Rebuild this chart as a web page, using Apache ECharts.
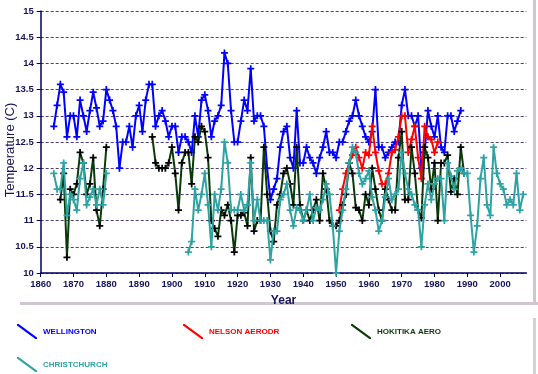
<!DOCTYPE html>
<html><head><meta charset="utf-8">
<script src="https://cdn.jsdelivr.net/npm/echarts@6/dist/echarts.min.js"></script>
<style>html,body{margin:0;padding:0;background:#fff}#c{width:538px;height:374px}</style>
</head><body><div id="c"></div>
<script>
// ---- data (annual mean temperature, deg C) ----
const xTicks = [1860,1870,1880,1890,1900,1910,1920,1930,1940,1950,1960,1970,1980,1990,2000];
const yTicks = [10,10.5,11,11.5,12,12.5,13,13.5,14,14.5,15];

const wellingtonStart = 1864;
const wellington = [
 12.8,13.2,13.6,13.45,12.6,13.0,13.0,12.6,13.3,13.0,
 12.7,13.1,13.45,13.15,12.8,12.9,13.5,13.3,13.1,12.8,
 12.0,12.5,12.5,12.8,12.4,13.0,13.2,12.7,13.3,13.6,
 13.6,12.8,13.0,13.1,12.9,12.6,12.8,12.8,12.3,12.6,
 12.6,12.5,12.3,13.0,12.6,13.3,13.4,13.1,12.6,12.9,
 13.0,13.2,14.2,14.0,13.1,12.5,12.5,12.9,13.3,13.1,
 13.9,12.9,13.0,13.0,12.8,12.0,11.4,11.6,11.8,12.4,
 12.7,12.8,12.2,12.0,13.1,12.1,12.1,12.4,12.2,12.1,
 11.9,12.2,12.4,12.7,12.3,12.3,12.2,12.5,12.5,12.7,
 12.9,13.0,13.3,13.0,12.8,12.6,12.5,12.7,13.5,12.4,
 12.4,12.2,12.3,12.4,12.5,12.5,13.2,13.5,13.0,13.0,
 12.8,13.0,12.0,12.3,13.1,12.8,12.6,13.0,12.4,12.3,
 13.0,13.0,12.7,12.9,13.1];

const nelsonStart = 1951;
const nelson = [
 11.2,11.6,11.9,12.1,12.25,12.4,12.2,12.0,12.3,12.25,
 12.8,12.3,11.95,11.7,11.7,11.9,12.3,12.35,12.6,13.0,
 13.0,12.3,12.55,12.8,12.2,11.8,12.8,12.6,12.55,12.3,
 12.5];

const hokitikaStart = 1866;
const hokitika = [
 11.4,11.9,10.3,11.6,11.5,11.7,12.3,12.1,11.5,11.7,
 12.2,11.2,10.9,11.6,12.4,
 null,null,null,null,null,null,null,null,null,null,null,null,null,
 12.6,12.1,12.0,12.0,12.0,12.1,12.4,11.9,11.2,12.1,
 12.3,12.3,11.7,12.6,12.5,12.8,12.7,12.2,11.0,10.85,
 10.7,11.2,11.1,11.3,11.0,10.4,11.1,11.1,11.15,10.9,
 12.2,10.8,11.0,11.0,12.4,11.5,10.8,10.6,11.3,11.5,
 11.9,12.0,11.7,11.3,12.4,11.3,11.0,11.2,11.0,11.2,
 11.4,11.0,11.9,11.6,11.0,10.9,10.9,11.0,11.3,11.5,
 12.1,11.9,11.25,11.2,11.0,11.5,11.3,12.0,11.6,11.2,
 11.0,11.6,11.4,11.2,11.2,12.2,12.7,11.4,11.4,12.4,
 11.9,11.2,11.05,12.4,12.2,11.6,12.1,11.0,12.1,12.1,
 12.25,11.55,11.8,11.5,12.4,11.9];

const christchurchStart = 1864;
const christchurch = [
 11.9,11.6,11.6,12.1,11.1,11.5,11.4,11.2,11.8,12.1,
 11.3,11.45,11.6,11.3,11.6,11.3,11.9,
 null,null,null,null,null,null,null,null,null,null,null,null,null,null,null,null,null,null,null,null,null,null,null,null,
 10.4,10.6,11.6,11.2,11.5,11.9,11.3,10.5,11.5,11.2,
 11.6,12.5,12.1,11.2,11.2,11.2,11.5,11.2,11.3,12.1,
 11.0,11.4,11.0,11.0,11.0,10.25,10.8,10.8,11.4,11.5,
 11.7,11.2,10.9,11.25,11.2,11.0,11.2,11.5,11.0,11.25,
 11.2,11.4,11.7,11.5,10.9,10.0,10.8,11.2,11.6,12.1,
 12.4,12.3,11.9,11.7,11.8,11.95,11.45,11.2,10.8,11.0,
 11.45,11.8,11.4,11.5,11.6,12.3,11.9,11.6,11.5,11.3,
 11.2,10.5,11.3,11.7,11.4,11.7,11.8,11.8,11.0,12.1,
 11.85,11.6,11.95,12.0,11.9,11.9,11.1,10.4,10.9,11.8,
 12.2,11.3,11.1,12.4,11.9,11.7,11.6,11.3,11.4,11.3,
 11.9,11.2,11.5];

const seriesNames = ['WELLINGTON','NELSON AERODR','HOKITIKA AERO','CHRISTCHURCH'];
const seriesColors = ['#0000ff','#ff0000','#0a3a0a','#2ea3a3'];
const seriesMarkColors = ['#0000ff','#ff0000','#000000','#2ea3a3'];

function pairs(start, vals){ return vals.map((v,i)=>[start+i, v]); }
const seriesData = [
  pairs(wellingtonStart, wellington),
  pairs(nelsonStart, nelson),
  pairs(hokitikaStart, hokitika),
  pairs(christchurchStart, christchurch)
];

const plus = 'path://M3,0H5V3H8V5H5V8H3V5H0V3H3Z';
const legendIcon = 'path://M0,0L1.6,0L20,13.4L20,15L18.4,15L0,1.6Z';
const navy = '#14145a';

const chart = echarts.init(document.getElementById('c'), null, {renderer:'canvas'});
const legendPos = [[17,324],[183,324],[351,324],[17,357]];

chart.setOption({
  animation:false,
  backgroundColor:'#ffffff',
  grid:{left:40.7, right:11.6, top:11, bottom:101, containLabel:false, outerBoundsMode:'none'},
  xAxis:{
    type:'value', min:1860, max:2008, interval:10,
    name:'Year', nameLocation:'middle', nameGap:22,
    nameTextStyle:{color:navy, fontSize:12, fontWeight:'bold', fontFamily:'Liberation Sans, Arial'},
    axisLine:{show:true, lineStyle:{color:'#000060', width:1.5}},
    axisTick:{show:true, length:4, lineStyle:{color:'#000060'}, customValues:xTicks},
    axisLabel:{color:navy, fontSize:9.5, fontWeight:'bold', margin:6, fontFamily:'Liberation Sans, Arial',
               customValues:xTicks, formatter:(v)=>String(v)},
    splitLine:{show:false}
  },
  yAxis:{
    type:'value', min:yTicks[0], max:yTicks[yTicks.length-1], interval:0.5,
    axisLine:{show:true, lineStyle:{color:'#000060', width:1.5}},
    axisTick:{show:true, length:4, lineStyle:{color:'#000060'}},
    axisLabel:{color:navy, fontSize:9.5, fontWeight:'bold', margin:7, fontFamily:'Liberation Sans, Arial',
               formatter:(v)=>String(v)},
    splitLine:{show:true, lineStyle:{color:'#4a3f7a', type:[3,2], width:1}}
  },
  legend: seriesNames.map((n,i)=>({
    left:legendPos[i][0], top:legendPos[i][1], orient:'horizontal',
    itemWidth:20, itemHeight:15, itemGap:5, padding:0,
    icon:legendIcon,
    data:[{name:n, itemStyle:{color:seriesColors[i]}, textStyle:{color:seriesColors[i]}}],
    textStyle:{fontSize:8, fontWeight:'bold', fontFamily:'Liberation Sans, Arial', padding:[0,0,0,1]}
  })),
  graphic:[
    {type:'text', x:10, y:150, rotation:Math.PI/2, silent:true,
     style:{text:'Temperature (C)', fill:navy, font:'13px "Liberation Sans", Arial', align:'center', verticalAlign:'middle'}},
    {type:'rect', shape:{x:20,y:302,width:518,height:3}, style:{fill:'#cfc6cf'}, silent:true},
    {type:'rect', shape:{x:533,y:0,width:3,height:305}, style:{fill:'#cfc6cf'}, silent:true},
    {type:'rect', shape:{x:533,y:318,width:3,height:56}, style:{fill:'#d8d0d8'}, silent:true}
  ],
  series: seriesNames.map((n,i)=>({
    name:n, type:'line', data:seriesData[i], connectNulls:false,
    symbol:plus, symbolSize:7, showSymbol:true,
    lineStyle:{color:seriesColors[i], width:2},
    itemStyle:{color:seriesMarkColors[i]},
    z: 2+i
  }))
});
</script></body></html>
